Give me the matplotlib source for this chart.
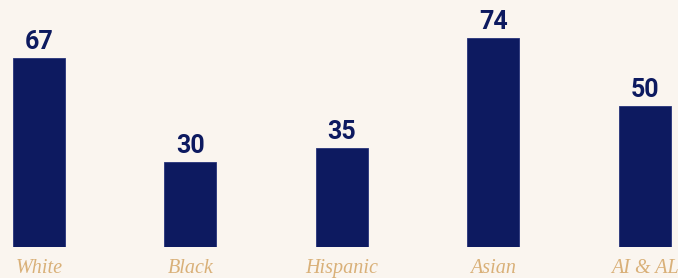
import matplotlib.pyplot as plt

# Data
categories = ['White', 'Black', 'Hispanic', 'Asian', 'AI & AL']
values = [67, 30, 35, 74, 50]

bg = '#faf5ef'
navy = '#0d1a60'
tan = '#d9b078'

fig = plt.figure(figsize=(6.78, 2.78), dpi=100, facecolor=bg)
ax = fig.add_axes([0, 31 / 278, 1, 247 / 278])
ax.set_facecolor(bg)

x = range(len(categories))
ax.bar(x, values, width=0.344, color=navy, edgecolor='#26337a', linewidth=0.6)

for xi, v in zip(x, values):
    ax.annotate(str(v), (xi, v), xytext=(0, 6.5), textcoords='offset points',
                ha='center', va='baseline', color=navy,
                fontsize=18, fontweight='bold',
                family=['Roboto', 'DejaVu Sans'])

for xi, c in zip(x, categories):
    fig.text((xi + 0.258) / 4.479, 5 / 278, c, ha='center', va='baseline',
             color=tan, fontsize=14.5, fontstyle='italic',
             family=['Liberation Serif', 'DejaVu Serif'])

ax.set_xlim(-0.258, 4.221)
ax.set_ylim(0, 87.6)
ax.axis('off')

fig.savefig('out.png', dpi=100, facecolor=bg)
